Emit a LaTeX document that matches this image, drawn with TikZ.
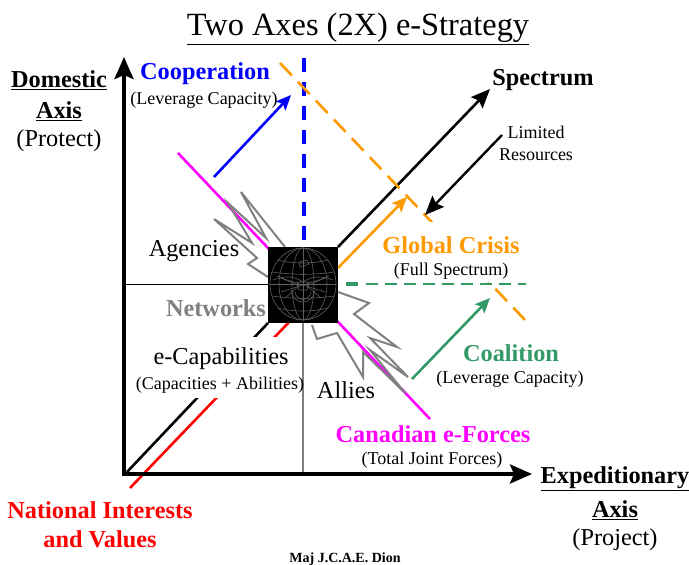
\documentclass[tikz,border=0pt]{standalone}
\usepackage{fontspec}
\setmainfont{Liberation Serif}
\usetikzlibrary{arrows.meta}
\definecolor{myblue}{RGB}{0,0,255}
\definecolor{myorange}{RGB}{255,153,0}
\definecolor{mygreen}{RGB}{51,153,102}
\definecolor{mymag}{RGB}{255,0,255}
\definecolor{mygrey}{RGB}{128,128,128}
\definecolor{logogrey}{RGB}{95,95,95}
\tikzset{
  big/.style={font=\fontsize{24.3}{26}\selectfont,inner sep=0pt},
  bigb/.style={font=\fontsize{24.3}{26}\selectfont\bfseries,inner sep=0pt},
  small/.style={font=\fontsize{18}{20}\selectfont,inner sep=0pt},
  tipbig/.style={-{Stealth[length=22pt,width=19pt,inset=4pt]}},
  tipmid/.style={-{Stealth[length=19pt,width=16pt,inset=3pt]}},
  tipsmall/.style={-{Stealth[length=15pt,width=13pt,inset=3pt]}},
  burst/.style={draw=mygrey,line width=2pt,line join=miter},
  globe/.style={draw=logogrey,line width=0.6pt},
}
\begin{document}
\begin{tikzpicture}[x=1pt,y=-1pt]
\useasboundingbox (0,0) rectangle (689,565);
% named anchors
\coordinate (o) at (124,474);
\coordinate (ytip) at (124,57);
\coordinate (xtip) at (532,474);
\coordinate (bl) at (127,472);
\coordinate (spec) at (490,89);
\coordinate (red1) at (130,488);
\coordinate (red2) at (292,319);
\coordinate (mag1) at (178,153);
\coordinate (mag2) at (430,419);
\coordinate (blue1) at (304,58);
\coordinate (blue2) at (304,240);
\coordinate (or1) at (280,63);
\coordinate (or2) at (527,322);
\coordinate (gr1) at (358,284);
\coordinate (gr2) at (526,284);
\coordinate (gr0) at (346,284);
\coordinate (bA) at (214,177);
\coordinate (bB) at (291,95);
\coordinate (lA) at (502,135);
\coordinate (lB) at (425,215);
\coordinate (oA) at (338,268);
\coordinate (oB) at (407,197);
\coordinate (gA) at (412,379);
\coordinate (gB) at (490,298);
\coordinate (hA) at (124,284);
\coordinate (hB) at (268,284);
\coordinate (vA) at (303,323);
\coordinate (vB) at (303,474);
% thin lines
\draw[black,line width=0.8pt] (hA) -- (hB);
\draw[mygrey,line width=1.2pt] (vA) -- (vB);
% diagonals
\draw[red,line width=2.6pt] (red1) -- (red2);
\draw[black,line width=2.6pt] (bl) -- (268,323);
\draw[black,line width=2.6pt,tipmid] (338,247) -- (spec);
\draw[mymag,line width=2.6pt] (mag1) -- (mag2);
% text boxes that mask the lines behind them
\fill[white] (137,337) rectangle (302,398);
% dashed
\draw[myblue,line width=3.6pt,dash pattern=on 14pt off 10pt] (blue1) -- (blue2);
\draw[myorange,line width=2.6pt,dash pattern=on 17pt off 9pt] (or1) -- (or2);
\fill[white] (380,222) rectangle (522,282);
\draw[mygreen,line width=3.4pt] (gr0) -- (gr1);
\draw[mygreen,line width=2pt,dash pattern=on 12pt off 7pt] (gr1)+(8,0) -- (gr2);
% bursts
\draw[burst] (285,247) -- (241,192) -- (266,238) -- (228,203) -- (252,243) -- (214,219) -- (257,258) -- (248,264) -- (268,277);
\draw[burst] (338,292) -- (369,303) -- (354,314) -- (397,347) -- (370,338) -- (408,377) -- (370,350) -- (405,393) -- (363,352) -- (363,377) -- (337,333) -- (317,339) -- (312,325);
% arrows
\draw[myblue,line width=2.6pt,tipsmall] (bA) -- (bB);
\draw[black,line width=2.4pt,tipmid] (lA) -- (lB);
\draw[myorange,line width=2.6pt,tipsmall] (oA) -- (oB);
\draw[mygreen,line width=2.6pt,tipsmall] (gA) -- (gB);
% axes
\draw[black,line width=4pt,tipbig] (124,476) -- (ytip);
\draw[black,line width=4pt,tipbig] (122,474) -- (xtip);
% logo
\fill[black] (268,247) rectangle (338,323);
\begin{scope}[shift={(303,284)}]
\draw[globe] (0,0) ellipse (33 and 36);
\draw[globe] (0,0) ellipse (24 and 36);
\draw[globe] (0,0) ellipse (11 and 36);
\draw[globe] (0,-36) -- (0,36);
\draw[globe] (-33,0) -- (33,0);
\draw[globe] (-25,-24) .. controls (-10,-20) and (10,-20) .. (25,-24);
\draw[globe] (-31,-12) .. controls (-10,-9) and (10,-9) .. (31,-12);
\draw[globe] (-31,12) .. controls (-10,15) and (10,15) .. (31,12);
\draw[globe] (-25,24) .. controls (-10,28) and (10,28) .. (25,24);
% emblem
\draw[globe] (-26,-8) -- (-4,2) -- (-18,14);
\draw[globe] (26,-8) -- (4,2) -- (18,14);
\draw[globe] (-30,-4) .. controls (-14,-10) and (-6,-6) .. (0,-2) .. controls (6,-6) and (14,-10) .. (30,-4);
\draw[globe] (-22,8) -- (22,-6);
\draw[globe] (22,8) -- (-22,-6);
\draw[globe] (0,-24) -- (0,12);
\draw[globe] (-4,-22) -- (4,-24) -- (6,-20) -- (-3,-17) -- cycle;
\draw[globe] (-12,6) .. controls (-10,22) and (10,22) .. (12,6);
\draw[globe] (-8,8) .. controls (-6,18) and (6,18) .. (8,8);
\draw[globe] (-6,-2) -- (6,-2) -- (4,6) -- (-4,6) -- cycle;
\end{scope}
% title
\node[inner sep=0pt,font=\fontsize{32.4}{34}\selectfont] (title) at (358,29) {\underline{Two Axes (2X) e-Strategy}};
% labels
\node[bigb] (dom) at (59,80) {\underline{Domestic}};
\node[bigb] (dax) at (59,111) {\underline{Axis}};
\node[big] (prot) at (59,141) {(Protect)};
\node[bigb,text=myblue] (coop) at (205,74) {Cooperation};
\node[small] (lev1) at (204,100) {(Leverage Capacity)};
\node[bigb] (spt) at (543,80) {Spectrum};
\node[small] (lim) at (536,132) {Limited};
\node[small] (res) at (536,155) {Resources};
\node[bigb,text=myorange] (glob) at (451,245) {Global Crisis};
\node[small] (full) at (451,271) {(Full Spectrum)};
\node[big] (ag) at (194,251) {Agencies};
\node[bigb,text=mygrey] (net) at (216,308) {Networks};
\node[big] (ecap) at (221,359) {e-Capabilities};
\node[small] (capa) at (220,385) {(Capacities + Abilities)};
\node[big] (all) at (346,390) {Allies};
\node[bigb,text=mygreen] (coal) at (511,353) {Coalition};
\node[small] (lev2) at (510,379) {(Leverage Capacity)};
\node[bigb,text=mymag] (cef) at (433,434) {Canadian e-Forces};
\node[small] (tot) at (432,460) {(Total Joint Forces)};
\node[bigb] (exp) at (615,479) {\underline{Expeditionary}};
\node[bigb] (eax) at (615,510) {\underline{Axis}};
\node[big] (proj) at (615,540) {(Project)};
\node[bigb,text=red] (nat) at (100,510) {National Interests};
\node[bigb,text=red] (val) at (100,539) {and Values};
\node[inner sep=0pt,font=\fontsize{14}{15}\selectfont\bfseries] (maj) at (345,559) {Maj J.C.A.E. Dion};
\end{tikzpicture}
\end{document}
